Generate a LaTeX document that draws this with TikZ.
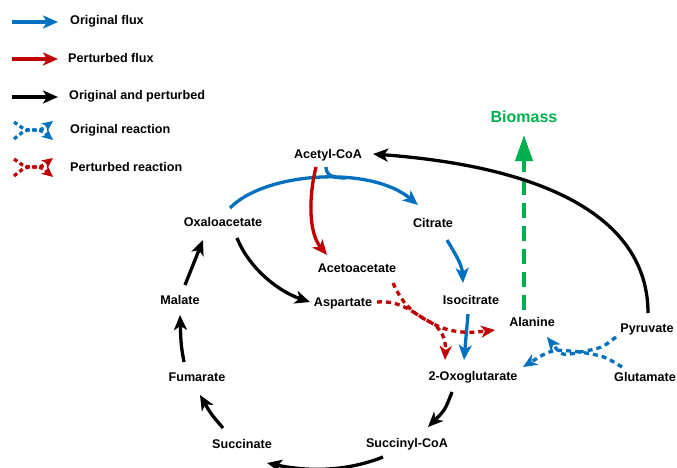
\documentclass[tikz,border=0pt]{standalone}
\usepackage{fontspec}
\setmainfont{Liberation Sans}
\usetikzlibrary{arrows.meta,calc}
\definecolor{oblue}{RGB}{0,112,192}
\definecolor{pred}{RGB}{192,0,0}
\definecolor{bgreen}{RGB}{0,176,80}
\tikzset{
  lbl/.style={inner sep=0pt,font=\fontsize{12.6}{14}\selectfont\bfseries},
  leg/.style={lbl,anchor=west},
  flux/.style={line width=3.3pt,-{Stealth[length=15pt,width=13pt,inset=4pt]}},
  bflux/.style={flux,draw=oblue,color=oblue},
  rflux/.style={flux,draw=pred,color=pred},
  kflux/.style={flux,draw=black},
  dflux/.style={line width=3.3pt,dash pattern=on 5pt off 4pt,-{Stealth[length=14pt,width=12pt,inset=4pt]}},
  bdash/.style={dflux,color=oblue},
  rdash/.style={dflux,color=pred},
}
\begin{document}
\begin{tikzpicture}[x=1pt,y=-1pt]
\useasboundingbox (0,0) rectangle (677,468);
% legend
\coordinate (l1a) at (12,22); \coordinate (l1b) at (58,22);
\coordinate (l2a) at (12,59); \coordinate (l2b) at (58,59);
\coordinate (l3a) at (12,97); \coordinate (l3b) at (58,97);
\node[leg] (t1) at (70,21) {Original flux};
\node[leg] (t2) at (68,58) {Perturbed flux};
\node[leg] (t3) at (69,96) {Original and perturbed};
\node[leg] (t4) at (70,130) {Original reaction};
\node[leg] (t5) at (70,167) {Perturbed reaction};
\draw[bflux] (l1a) -- (l1b);
\draw[rflux] (l2a) -- (l2b);
\draw[kflux] (l3a) -- (l3b);
\coordinate (r1m) at (33,130);
\coordinate (r2m) at (33,167);
\foreach \m/\c in {r1m/bdash,r2m/rdash}{
  \draw[\c,dash pattern=on 4pt off 3pt,-{Stealth[length=11pt,width=10pt,inset=3pt]}] ($(\m)+(-19,-8)$) .. controls ($(\m)+(-8,0)$) .. (\m) .. controls ($(\m)+(8,0)$) .. ($(\m)+(20,-9)$);
  \draw[\c,dash pattern=on 4pt off 3pt,-{Stealth[length=11pt,width=10pt,inset=3pt]}] ($(\m)+(-19,9)$) .. controls ($(\m)+(-8,0)$) .. (\m) .. controls ($(\m)+(8,0)$) .. ($(\m)+(20,10)$);
}
% nodes
\node[lbl] (acoa) at (328,155) {Acetyl-CoA};
\node[lbl] (oxa) at (223,222) {Oxaloacetate};
\node[lbl] (cit) at (433,223) {Citrate};
\node[lbl] (acac) at (357,268) {Acetoacetate};
\node[lbl] (asp) at (343,303) {Aspartate};
\node[lbl] (mal) at (180,300) {Malate};
\node[lbl] (iso) at (471,300) {Isocitrate};
\node[lbl] (ala) at (532,322) {Alanine};
\node[lbl] (pyr) at (647,329) {Pyruvate};
\node[lbl] (glu) at (645,377) {Glutamate};
\node[lbl] (oxo) at (473,377) {2-Oxoglutarate};
\node[lbl] (fum) at (197,377) {Fumarate};
\node[lbl] (succ) at (242,444) {Succinate};
\node[lbl] (sca) at (407,444) {Succinyl-CoA};
\node[inner sep=0pt,font=\fontsize{16}{18}\selectfont\bfseries,text=bgreen] (bio) at (524,117) {Biomass};
% green dashed
\draw[bgreen,line width=4pt,dash pattern=on 15pt off 8pt,-{Triangle[length=26pt,width=17pt]}] ($(ala)+(-8,-12)$) -- ($(bio)+(0,18)$);
% big black arc
\draw[kflux] ($(pyr)+(1,-16)$) .. controls (648,225) and (560,168) .. ($(acoa)+(45,-1)$);
% blue arc
\draw[bflux] ($(oxa)+(7,-14)$) .. controls (265,172) and (370,165) .. ($(cit)+(-15,-18)$);
\draw[oblue,line width=3.3pt] ($(acoa)+(-2,12)$) .. controls (326,176) and (334,178) .. (346,178);
% red
\draw[rflux] ($(acoa)+(-12,12)$) .. controls (309,195) and (308,232) .. ($(acac)+(-30,-13)$);
% black oxa -> asp
\draw[kflux] ($(oxa)+(14,16)$) .. controls (250,270) and (280,292) .. ($(asp)+(-33,-1)$);
% blue cit->iso, iso->oxo
\draw[bflux] ($(cit)+(14,17)$) .. controls (456,255) and (462,265) .. ($(iso)+(-8,-17)$);
\draw[bflux] ($(iso)+(-3,14)$) -- ($(oxo)+(-9,-17)$);
% red dashed crossing
\coordinate (rx) at (430,322);
\draw[rdash] ($(acac)+(36,15)$) .. controls (404,308) and (418,316) .. (rx) .. controls (442,328) and (446,340) .. ($(oxo)+(-28,-17)$);
\draw[rdash] ($(asp)+(34,-1)$) .. controls (402,300) and (414,314) .. (rx) .. controls (450,334) and (470,333) .. ($(ala)+(-37,8)$);
% blue dashed crossing
\coordinate (bx) at (580,352);
\draw[bdash] ($(pyr)+(-31,8)$) .. controls (602,348) .. (bx) .. controls (562,356) .. ($(ala)+(15,15)$);
\draw[bdash] ($(glu)+(-23,-10)$) .. controls (604,356) .. (bx) .. controls (552,349) .. ($(oxo)+(50,-10)$);
% TCA cycle black
\draw[kflux] ($(mal)+(5,-15)$) -- ($(oxa)+(-20,18)$);
\draw[kflux] ($(fum)+(-13,-15)$) .. controls (181,345) .. ($(mal)+(0,15)$);
\draw[kflux] ($(succ)+(-19,-16)$) .. controls (211,414) .. ($(fum)+(3,18)$);
\draw[kflux] ($(sca)+(-24,13)$) .. controls (340,474) and (300,470) .. ($(succ)+(25,19)$);
\draw[kflux] ($(oxo)+(-21,15)$) .. controls (445,410) .. ($(sca)+(21,-17)$);
\end{tikzpicture}
\end{document}
